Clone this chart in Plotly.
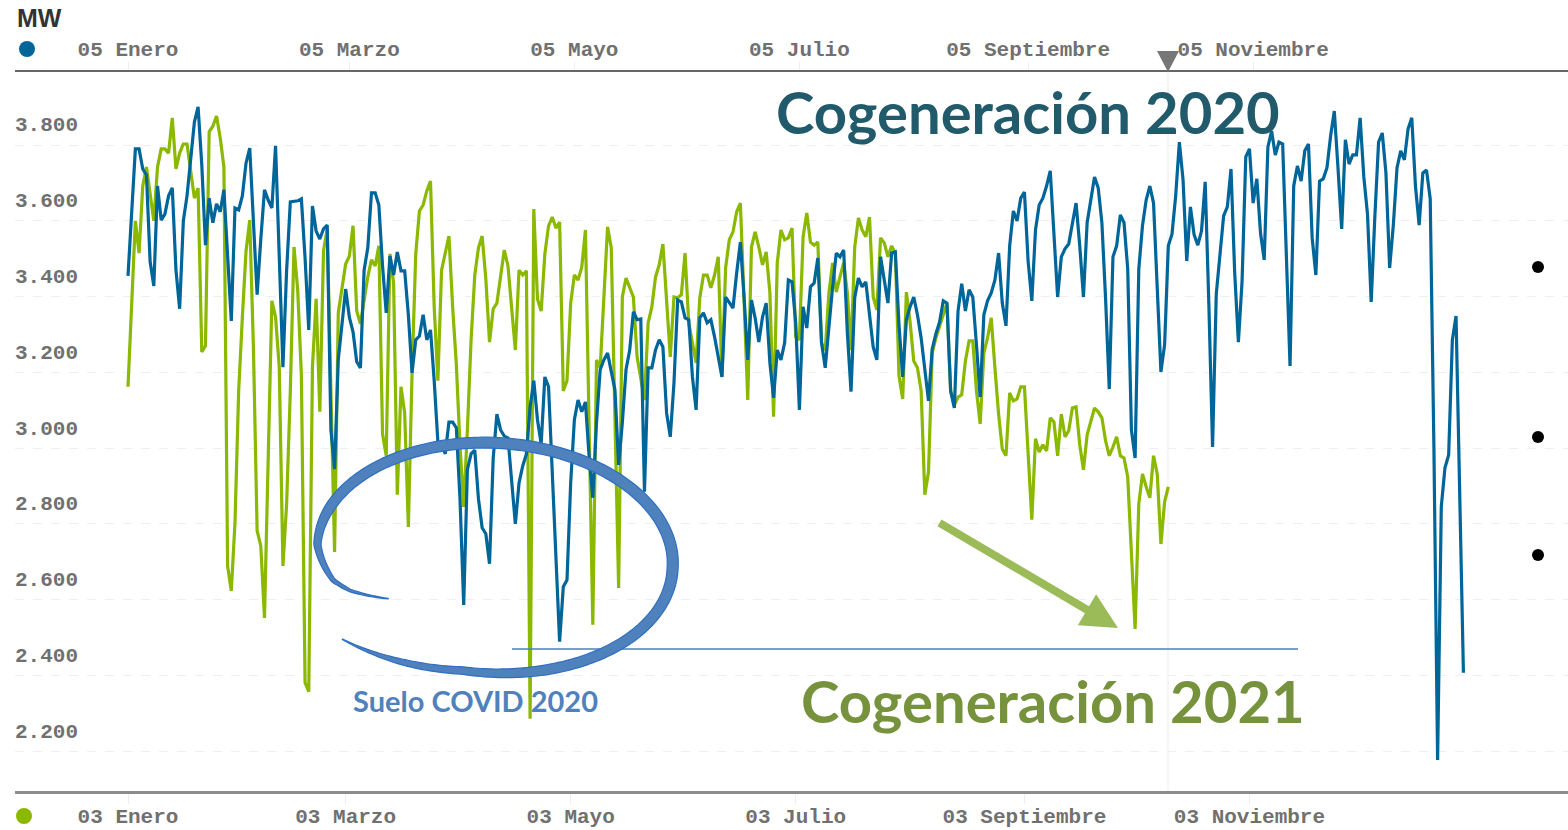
import numpy as np
import pandas as pd
import plotly.graph_objects as go

# ---------------- data ----------------
# 2020 series: day offset from 05 Jan 2020, MW
blue_day = [0, 2, 3, 4, 5, 6, 7, 8, 9, 10, 11, 12, 13, 14, 15, 16, 18, 19, 20, 21, 22, 23, 24, 25, 26, 27, 28, 29, 30,
            31, 32, 33, 34, 35, 36, 37, 38, 39, 40, 41, 42, 43, 44, 46, 47, 48, 49, 50, 51, 52, 53, 54, 55, 56, 57, 59,
            60, 61, 62, 63, 64, 65, 66, 67, 68, 69, 70, 71, 72, 73, 74, 75, 76, 77, 78, 79, 80, 81, 82, 83, 84, 85, 86,
            87, 88, 89, 90, 91, 92, 93, 94, 95, 96, 97, 98, 99, 100, 101, 102, 103, 104, 105, 106, 107, 108, 109, 110,
            111, 112, 113, 114, 115, 117, 118, 119, 120, 121, 122, 123, 124, 125, 126, 127, 128, 129, 130, 132, 133,
            134, 135, 136, 137, 138, 139, 140, 141, 142, 143, 144, 145, 146, 147, 148, 149, 150, 151, 152, 153, 154,
            155, 156, 157, 158, 159, 160, 161, 162, 163, 164, 165, 166, 167, 168, 169, 170, 171, 172, 173, 174, 175,
            176, 177, 178, 179, 180, 181, 182, 183, 184, 185, 186, 187, 188, 189, 190, 191, 192, 193, 194, 195, 196,
            197, 198, 199, 200, 202, 203, 204, 205, 206, 207, 208, 209, 210, 211, 212, 213, 214, 215, 216, 217, 218,
            219, 220, 221, 222, 223, 224, 225, 226, 227, 228, 229, 230, 231, 232, 233, 234, 235, 236, 237, 238, 239,
            240, 241, 242, 243, 244, 245, 246, 247, 248, 249, 250, 251, 252, 253, 254, 255, 256, 257, 258, 259, 260,
            261, 262, 263, 264, 265, 266, 267, 268, 269, 270, 271, 272, 273, 274, 275, 276, 277, 278, 279, 280, 281,
            282, 283, 284, 285, 286, 287, 288, 289, 290, 291, 292, 293, 294, 295, 296, 297, 298, 299, 300, 301, 302,
            303, 304, 305, 306, 307, 308, 309, 310, 311, 312, 313, 314, 315, 316, 317, 318, 319, 320, 321, 322, 323,
            324, 325, 326, 327, 328, 329, 330, 331, 332, 333, 334, 335, 336, 337, 338, 339, 340, 341, 342, 343, 344,
            345, 346, 347, 348, 349, 350, 351, 352, 353, 354, 355, 356, 357, 358, 359, 360, 362]
blue_mw = [3455, 3790, 3790, 3737, 3721, 3492, 3428, 3692, 3602, 3618, 3666, 3687, 3470, 3368, 3600, 3666, 3861, 3901,
           3748, 3536, 3660, 3595, 3645, 3624, 3682, 3492, 3336, 3634, 3629, 3666, 3753, 3792, 3595, 3405, 3552, 3682,
           3655, 3634, 3798, 3521, 3214, 3470, 3650, 3653, 3658, 3502, 3312, 3639, 3573, 3552, 3579, 3589, 3048, 2945,
           3233, 3420, 3346, 3307, 3228, 3212, 3470, 3529, 3674, 3674, 3642, 3481, 3357, 3507, 3457, 3518, 3468, 3468,
           3352, 3199, 3286, 3296, 3352, 3286, 3312, 3178, 3017, 3011, 2985, 3069, 3069, 3054, 2866, 2586, 2943, 2985,
           2995, 2866, 2790, 2774, 2695, 2974, 3090, 3048, 3032, 3027, 2914, 2800, 2908, 2953, 2985, 3109, 3178, 3075,
           3011, 3188, 3162, 2924, 2489, 2634, 2652, 2908, 3075, 3127, 3096, 3122, 2977, 2869, 3067, 3207, 3233, 3251,
           3154, 2956, 3067, 3207, 3259, 3360, 3339, 3341, 2885, 3212, 3212, 3259, 3286, 3267, 3093, 3030, 3172, 3391,
           3386, 3344, 3339, 3188, 3101, 3344, 3357, 3331, 3339, 3294, 3241, 3188, 3399, 3383, 3370, 3463, 3544, 3399,
           3233, 3391, 3344, 3280, 3346, 3383, 3225, 3133, 3259, 3233, 3278, 3444, 3439, 3331, 3101, 3373, 3317, 3426,
           3436, 3502, 3278, 3212, 3331, 3426, 3515, 3505, 3523, 3304, 3149, 3397, 3449, 3426, 3439, 3267, 3233, 3505,
           3444, 3383, 3515, 3518, 3325, 3188, 3339, 3373, 3399, 3352, 3291, 3212, 3125, 3262, 3302, 3333, 3389, 3383,
           3151, 3106, 3362, 3434, 3362, 3418, 3399, 3273, 3135, 3352, 3389, 3410, 3444, 3515, 3383, 3323, 3534, 3626,
           3600, 3660, 3676, 3494, 3389, 3576, 3642, 3660, 3692, 3732, 3565, 3399, 3505, 3526, 3539, 3595, 3647, 3534,
           3399, 3595, 3660, 3716, 3687, 3595, 3394, 3156, 3505, 3534, 3616, 3595, 3473, 3048, 2974, 3473, 3587, 3655,
           3692, 3647, 3423, 3201, 3273, 3534, 3565, 3666, 3808, 3708, 3494, 3637, 3563, 3536, 3573, 3703, 3378, 3003,
           3407, 3510, 3613, 3637, 3737, 3463, 3280, 3441, 3769, 3790, 3647, 3711, 3568, 3497, 3795, 3837, 3774, 3808,
           3803, 3510, 3217, 3692, 3745, 3705, 3785, 3803, 3555, 3457, 3705, 3711, 3740, 3824, 3890, 3740, 3579, 3814,
           3750, 3774, 3774, 3872, 3716, 3618, 3386, 3613, 3808, 3832, 3726, 3476, 3589, 3740, 3785, 3761, 3843, 3872,
           3692, 3589, 3726, 3734, 3658, 3003, 2177, 2845, 2948, 2982, 3286, 3349, 2407]

# 2021 series: day offset from 03 Jan 2021, MW
green_day = [0, 2, 3, 4, 5, 6, 7, 8, 9, 10, 11, 12, 13, 14, 15, 16, 17, 18, 19, 20, 21, 22, 23, 24, 25, 26, 27, 28, 29,
             30, 31, 32, 33, 34, 35, 36, 37, 38, 39, 40, 41, 42, 43, 44, 45, 46, 47, 48, 49, 50, 51, 52, 53, 54, 56, 57,
             58, 59, 60, 61, 62, 63, 65, 66, 67, 68, 69, 70, 71, 72, 73, 74, 75, 76, 77, 78, 79, 80, 81, 82, 83, 84, 85,
             86, 87, 88, 89, 90, 91, 92, 93, 94, 95, 96, 97, 98, 99, 100, 101, 102, 103, 104, 105, 106, 107, 108, 109,
             110, 111, 112, 113, 114, 115, 116, 117, 118, 119, 120, 121, 122, 123, 124, 126, 127, 128, 130, 131, 133,
             134, 135, 136, 137, 138, 139, 140, 141, 142, 143, 144, 145, 146, 147, 148, 149, 150, 151, 152, 153, 154,
             155, 156, 157, 158, 159, 160, 161, 162, 163, 164, 165, 166, 167, 168, 169, 170, 171, 172, 173, 174, 175,
             176, 177, 178, 179, 180, 181, 182, 183, 184, 185, 186, 187, 188, 189, 190, 191, 192, 193, 194, 195, 196,
             197, 198, 199, 200, 201, 202, 203, 204, 205, 206, 207, 208, 209, 210, 211, 212, 213, 214, 215, 216, 217,
             218, 219, 220, 221, 222, 223, 224, 225, 226, 227, 228, 229, 230, 231, 232, 233, 234, 235, 236, 237, 238,
             239, 240, 241, 242, 243, 244, 245, 246, 247, 248, 249, 250, 251, 252, 253, 254, 255, 256, 257, 258, 259,
             260, 261, 262, 263, 264, 265, 266, 267, 268, 269, 270, 271, 272, 273, 274, 275, 276, 277, 278, 279, 280,
             281, 282]
green_mw = [3162, 3600, 3515, 3692, 3742, 3676, 3600, 3742, 3790, 3790, 3779, 3872, 3737, 3779, 3803, 3803, 3726, 3660,
            3687, 3254, 3270, 3835, 3850, 3877, 3819, 3742, 2689, 2623, 2803, 3151, 3346, 3521, 3602, 3265, 2782, 2742,
            2552, 2937, 3389, 3346, 3214, 2689, 2853, 3151, 3531, 3418, 3193, 2381, 2357, 3214, 3394, 3096, 3521, 3579,
            2726, 3357, 3426, 3486, 3507, 3587, 3362, 3328, 3452, 3497, 3481, 3534, 3038, 2980, 3513, 3436, 2877, 3162,
            3093, 2792, 3199, 3513, 3626, 3642, 3679, 3705, 3373, 3178, 3470, 3518, 3560, 3373, 3222, 3006, 2845, 3048,
            3286, 3457, 3529, 3560, 3447, 3280, 3368, 3383, 3457, 3523, 3481, 3373, 3259, 3470, 3457, 3468, 2286, 3631,
            3394, 3362, 3513, 3587, 3610, 3581, 3597, 3151, 3178, 3383, 3457, 3444, 3478, 3576, 2534, 3233, 3212, 3584,
            3529, 2631, 3399, 3449, 3426, 3399, 3241, 3180, 3127, 3331, 3373, 3452, 3484, 3539, 3391, 3241, 3399, 3397,
            3405, 3515, 3331, 3280, 3225, 3397, 3457, 3457, 3423, 3457, 3505, 3188, 3476, 3550, 3571, 3624, 3647, 3391,
            3127, 3531, 3571, 3531, 3484, 3518, 3410, 3083, 3489, 3576, 3550, 3555, 3581, 3294, 3286, 3558, 3621, 3544,
            3536, 3544, 3278, 3259, 3410, 3489, 3412, 3452, 3489, 3410, 3259, 3531, 3608, 3576, 3558, 3610, 3399, 3365,
            3555, 3542, 3505, 3534, 3515, 3191, 3130, 3412, 3333, 3230, 3212, 3151, 2877, 2937, 3251, 3291, 3323, 3357,
            3383, 3151, 3114, 3135, 3141, 3230, 3283, 3283, 3151, 3064, 3251, 3291, 3344, 3212, 3090, 2998, 2980, 3146,
            3125, 3130, 3162, 3162, 2990, 2811, 3025, 2990, 3009, 2993, 3080, 3069, 2980, 3090, 3030, 3046, 3106, 3109,
            3009, 2943, 3035, 3069, 3106, 3096, 3080, 3019, 2980, 3003, 3030, 2980, 2974, 2924, 2705, 2523, 2853, 2932,
            2898, 2869, 2980, 2932, 2747, 2858, 2898]

top_ticks = ["2020-01-05", "2020-03-05", "2020-05-05", "2020-07-05", "2020-09-05", "2020-11-05"]
top_labels = ["05 Enero", "05 Marzo", "05 Mayo", "05 Julio", "05 Septiembre", "05 Noviembre"]
bottom_ticks = ["2021-01-03", "2021-03-03", "2021-05-03", "2021-07-03", "2021-09-03", "2021-11-03"]
bottom_labels = ["03 Enero", "03 Marzo", "03 Mayo", "03 Julio", "03 Septiembre", "03 Noviembre"]
y_ticks = [2200, 2400, 2600, 2800, 3000, 3200, 3400, 3600, 3800]
y_labels = [f"{v:,}".replace(",", ".") for v in y_ticks]

BLUE_START = pd.Timestamp("2020-01-05")
GREEN_START = pd.Timestamp("2021-01-03")
blue_x = BLUE_START + pd.to_timedelta(blue_day, unit="D")
green_x = GREEN_START + pd.to_timedelta(green_day, unit="D")

# ---------------- geometry ----------------
W, H = 1568, 830
ML, MR, MT, MB = 15, 0, 72, 39
PW, PH = W - ML - MR, H - MT - MB
ORIGIN_PX = 128
PX_PER_DAY = 3.689
Y_RANGE = [2095, 3993]


def xrange_for(start):
    lo = start + pd.Timedelta(days=(ML - ORIGIN_PX) / PX_PER_DAY)
    hi = start + pd.Timedelta(days=(W - MR - ORIGIN_PX) / PX_PER_DAY)
    return [lo.strftime("%Y-%m-%d %H:%M:%S"), hi.strftime("%Y-%m-%d %H:%M:%S")]


def px(x):
    return (x - ML) / PW


def py(y):
    return (H - MB - y) / PH


BLUE = "#00669a"
GREEN = "#8bb800"
TICKFONT = dict(family="Liberation Mono", size=21, color="#707070", weight="bold")

fig = go.Figure()
fig.add_trace(go.Scatter(x=green_x, y=green_mw, mode="lines", xaxis="x", yaxis="y",
                         line=dict(color=GREEN, width=3.2), hoverinfo="skip"))
fig.add_trace(go.Scatter(x=blue_x, y=blue_mw, mode="lines", xaxis="x2", yaxis="y",
                         line=dict(color=BLUE, width=3.2), hoverinfo="skip"))

# ---------------- decorations ----------------
shapes = []
shapes.append(dict(type="line", xref="paper", yref="paper", x0=px(1168), x1=px(1168), y0=0, y1=1,
                   line=dict(color="#ebebeb", width=1), layer="below"))
shapes.append(dict(type="path", xref="paper", yref="paper",
                   path=f"M {px(1157)},{py(51)} L {px(1179)},{py(51)} L {px(1168)},{py(72)} Z",
                   fillcolor="#777777", line=dict(width=0)))
for cx_, cy_, col in [(27, 49, BLUE), (24, 816, GREEN)]:
    shapes.append(dict(type="circle", xref="paper", yref="paper",
                       x0=px(cx_ - 8), x1=px(cx_ + 8), y0=py(cy_ + 8), y1=py(cy_ - 8),
                       fillcolor=col, line=dict(width=0)))
for cy_ in [267, 437, 555]:
    shapes.append(dict(type="circle", xref="paper", yref="paper",
                       x0=px(1532), x1=px(1544), y0=py(cy_ + 6), y1=py(cy_ - 6),
                       fillcolor="black", line=dict(width=0)))
shapes.append(dict(type="line", xref="paper", yref="paper", x0=px(512), x1=px(1298), y0=py(649), y1=py(649),
                   line=dict(color="#4a7ebb", width=1.5)))

# hand-drawn ellipse (tapered stroke)
cx, cy, a, b, phi = 495, 556, 178, 113, np.radians(3.8)
th = np.linspace(143, 495, 320)
r = np.interp(th, [143, 154, 161, 180, 270, 360, 458, 495], [0.73, 0.89, 0.95, 1.0, 1.0, 1.0, 1.04, 1.166])
w = np.interp(th, [143, 165, 200, 270, 360, 430, 475, 495], [0.5, 5, 10, 11, 11, 10, 6, 0.5])
t = np.radians(th)
X, Y = a * r * np.cos(t), b * r * np.sin(t)
xs = cx + X * np.cos(phi) - Y * np.sin(phi)
ys = cy + X * np.sin(phi) + Y * np.cos(phi)
dx, dy = np.gradient(xs), np.gradient(ys)
nrm = np.hypot(dx, dy)
nx, ny = -dy / nrm, dx / nrm
ox, oy = xs + nx * w / 2, ys + ny * w / 2
ix, iy = xs - nx * w / 2, ys - ny * w / 2
pts = list(zip(ox, oy)) + list(zip(ix[::-1], iy[::-1]))
path = "M " + " L ".join(f"{px(p[0]):.5f},{py(p[1]):.5f}" for p in pts) + " Z"
shapes.append(dict(type="path", xref="paper", yref="paper", path=path,
                   fillcolor="#4f81bd", line=dict(color="#2f6fbf", width=1.2)))

annotations = [
    dict(text="<b>MW</b>", xref="paper", yref="paper", x=px(15), y=py(18), xanchor="left", yanchor="middle",
         showarrow=False, font=dict(family="Liberation Sans", size=25, color="#333333")),
    dict(text="Cogeneración 2020", xref="paper", yref="paper", x=px(1028), y=py(112), xanchor="center",
         yanchor="middle", showarrow=False,
         font=dict(family="Lato", size=58, color="#215a6b", weight="bold")),
    dict(text="Cogeneración 2021", xref="paper", yref="paper", x=px(1053), y=py(700), xanchor="center",
         yanchor="middle", showarrow=False,
         font=dict(family="Lato", size=58, color="#76923c", weight="bold")),
    dict(text="Suelo COVID 2020", xref="paper", yref="paper", x=px(476), y=py(700), xanchor="center",
         yanchor="middle", showarrow=False,
         font=dict(family="Lato", size=29, color="#4f81bd", weight="bold")),
    dict(text="", xref="paper", yref="paper", x=px(1118), y=py(628), ax=-180, ay=-106,
         showarrow=True, arrowhead=2, arrowsize=0.9, arrowwidth=8, arrowcolor="#9bbb59"),
]

fig.update_layout(
    width=W, height=H,
    margin=dict(l=ML, r=MR, t=MT, b=MB, pad=0, autoexpand=False),
    paper_bgcolor="white", plot_bgcolor="white",
    showlegend=False,
    xaxis=dict(type="date", range=xrange_for(GREEN_START), side="bottom", anchor="y", automargin=False,
               tickvals=bottom_ticks, ticktext=bottom_labels, tickfont=TICKFONT,
               showgrid=False, zeroline=False, showline=True, linecolor="#8c8c8c", linewidth=3,
               ticks="outside", ticklen=10, tickcolor="#eeeeee", tickwidth=1, ticklabelstandoff=-6),
    xaxis2=dict(type="date", range=xrange_for(BLUE_START), side="top", anchor="y", overlaying="x",
                automargin=False,
                tickvals=top_ticks, ticktext=top_labels, tickfont=TICKFONT,
                showgrid=False, zeroline=False, showline=True, linecolor="#666666", linewidth=2,
                ticks="outside", ticklen=8, tickcolor="#eeeeee", tickwidth=1, ticklabelstandoff=-2),
    yaxis=dict(range=Y_RANGE, tickvals=y_ticks, ticktext=y_labels, tickfont=TICKFONT, automargin=False,
               ticklabelposition="inside", ticklabelshift=-21, ticklabelstandoff=-3, ticks="",
               showgrid=True, gridcolor="#efefef", griddash="dash", gridwidth=1,
               zeroline=False, showline=False),
    shapes=shapes,
    annotations=annotations,
)

fig.write_html("out.html", config={"displayModeBar": False},
               post_script="document.body.style.margin='0';document.body.style.overflow='hidden';")
